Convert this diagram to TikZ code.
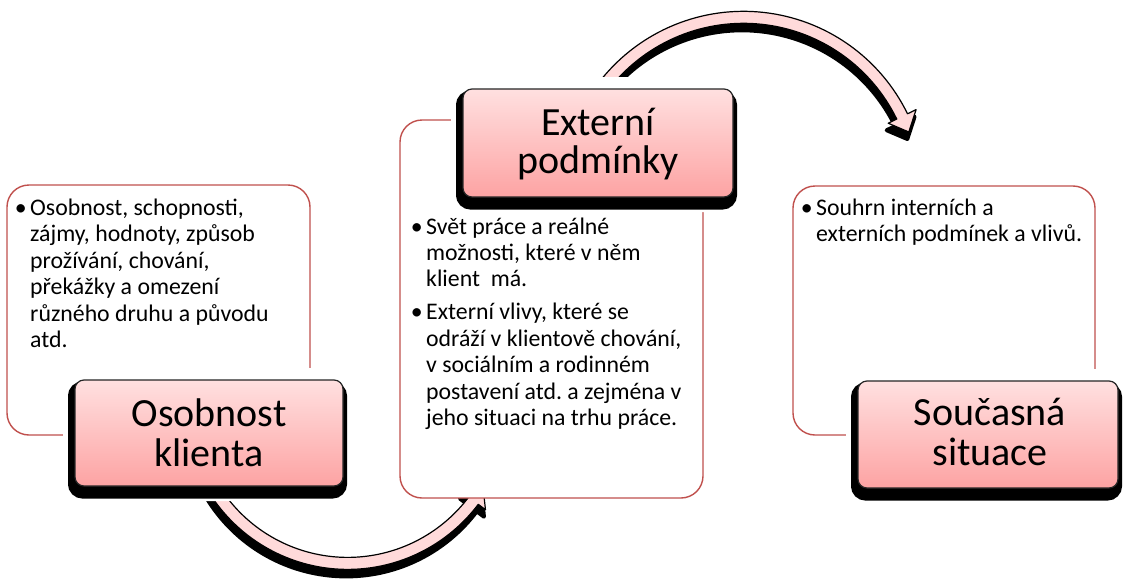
\documentclass[tikz,border=0pt]{standalone}
\usepackage{fontspec}
\setmainfont{Carlito}
\frenchspacing
\definecolor{boxred}{RGB}{192,80,77}
\definecolor{pinktop}{RGB}{255,224,224}
\definecolor{pinkbot}{RGB}{253,163,163}
\definecolor{arrowpink}{RGB}{255,218,218}
\tikzset{
  % curved band with an arrow head: centre x, centre y, radius, half width,
  % half head width, start angle, head angle, tip angle
  bend arrow/.style n args={8}{insert path={
    plot[domain=#6:#7, samples=70] ({#1+(#3+#4)*cos(\x)},{#2+(#3+#4)*sin(\x)})
    -- ({#1+(#3+#5)*cos(#7)},{#2+(#3+#5)*sin(#7)})
    -- ({#1+#3*cos(#8)},{#2+#3*sin(#8)})
    -- ({#1+(#3-#5)*cos(#7)},{#2+(#3-#5)*sin(#7)})
    -- plot[domain=#7:#6, samples=70] ({#1+(#3-#4)*cos(\x)},{#2+(#3-#4)*sin(\x)})
    -- cycle}},
  arrowshadow/.style={fill=black, draw=black, line width=4pt, line join=round, shift={(-1.5,7)}},
  arrowbody/.style={fill=arrowpink, draw=black, line width=1.2pt, line join=round},
  textbox/.style={draw=boxred, line width=1.4pt, fill=white, rounded corners=22pt,
    inner sep=0pt},
  titlehalo/.style={fill=white, rounded corners=14pt, inner sep=0pt},
  titleshadow/.style={fill=black, draw=black, line width=11pt, rounded corners=9pt,
    inner sep=0pt},
  titlebox/.style={draw=black!85, line width=1.2pt, rounded corners=9pt,
    top color=pinktop, bottom color=pinkbot, inner sep=0pt},
  titletext/.style={inner sep=0pt, anchor=base, font=\fontsize{40}{40.5}\selectfont},
  bodytext/.style={inner sep=0pt, anchor=base west, font=\fontsize{23.8}{26.4}\selectfont},
}
\newcommand{\blt}{\leavevmode\llap{•\kern3.5pt}}
\begin{document}
\begin{tikzpicture}[x=1pt, y=-1pt]
\useasboundingbox (0,0) rectangle (1125,581);

% curved arrows, drawn below everything else
\path[arrowshadow, bend arrow={347.7}{405.9}{157.5}{6}{15}{150}{37}{30.8}];
\path[arrowbody,   bend arrow={347.7}{405.9}{157.5}{6}{15}{150}{37}{30.8}];
\path[arrowshadow, bend arrow={743.5}{193.8}{176.5}{6}{15.5}{-150}{-26}{-20.5}];
\path[arrowbody,   bend arrow={743.5}{193.8}{176.5}{6}{15.5}{-150}{-26}{-20.5}];

% text panels
\node[textbox, minimum width=303pt, minimum height=250pt] (pa) at (158.5,310) {};
\node[textbox, minimum width=303pt, minimum height=378pt] (pb) at (551.5,309) {};
\node[textbox, minimum width=302pt, minimum height=249pt] (pc) at (944,310.5) {};

\node[bodytext] (ta) at (30,215.5) {\parbox[t]{280pt}{\raggedright
  \blt Osobnost, schopnosti,\\
  zájmy, hodnoty, způsob\\
  prožívání, chování,\\
  překážky a omezení\\
  různého druhu a původu\\
  atd.}};
\node[bodytext] (tb) at (426,234) {\parbox[t]{280pt}{\raggedright
  \blt Svět práce a reálné\\
  možnosti, které v něm\\
  klient\ \ má.\par\vspace{6.6pt}
  \blt Externí vlivy, které se\\
  odráží v klientově chování,\\
  v sociálním a rodinném\\
  postavení atd. a zejména v\\
  jeho situaci na trhu práce.}};
\node[bodytext] (tc) at (816,215.5) {\parbox[t]{280pt}{\raggedright
  \blt Souhrn interních a\\
  externích podmínek a vlivů.}};

% title boxes
\node[titlehalo, minimum width=290pt, minimum height=133pt] (h1) at (208,434.5) {};
\node[titleshadow, minimum width=268pt, minimum height=106pt] (s1) at (207.5,440) {};
\node[titlebox, minimum width=268pt, minimum height=106pt] (t1) at (209,433) {};
\node[titletext] (l1) at (209,426) {\parbox[t]{260pt}{\centering Osobnost\\klienta}};

\node[titlehalo, minimum width=292pt, minimum height=135pt] (h2) at (597,144.5) {};
\node[titleshadow, minimum width=270pt, minimum height=108pt] (s2) at (596.5,150) {};
\node[titlebox, minimum width=270pt, minimum height=108pt] (t2) at (598,143) {};
\node[titletext] (l2) at (598,135) {\parbox[t]{260pt}{\centering Externí\\[-2.5pt]podmínky}};

\node[titlehalo, minimum width=282pt, minimum height=134pt] (h3) at (987,436) {};
\node[titleshadow, minimum width=260pt, minimum height=107pt] (s3) at (986.5,441.5) {};
\node[titlebox, minimum width=260pt, minimum height=107pt] (t3) at (988,434.5) {};
\node[titletext] (l3) at (990,425) {\parbox[t]{250pt}{\centering Současná\\situace}};
\end{tikzpicture}
\end{document}
